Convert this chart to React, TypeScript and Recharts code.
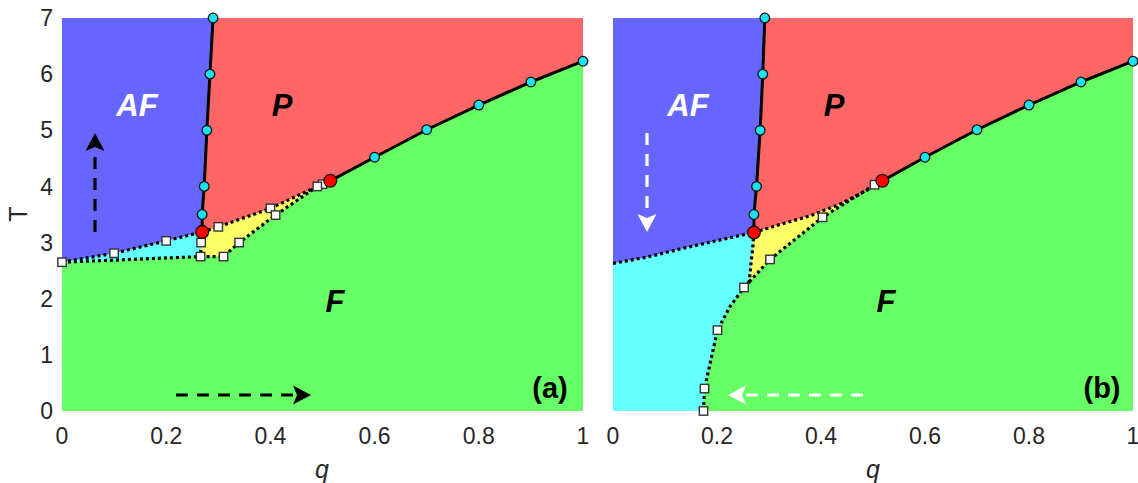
import React from 'react';
import { ComposedChart, XAxis, YAxis, CartesianGrid, Area, Line, Scatter } from 'recharts';

type Pt = { q: number; T: number };

const qTicks = [0, 0.2, 0.4, 0.6, 0.8, 1];
const tTicks = [0, 1, 2, 3, 4, 5, 6, 7];
const T_MAX = 7;

// ---- panel (a) ----
const afParaA: Pt[] = [
  { q: 0.269, T: 3.19 }, { q: 0.269, T: 3.5 }, { q: 0.273, T: 4 },
  { q: 0.278, T: 5 }, { q: 0.284, T: 6 }, { q: 0.29, T: 7 },
];
const pfA: Pt[] = [
  { q: 0.515, T: 4.1 }, { q: 0.6, T: 4.52 }, { q: 0.7, T: 5.01 },
  { q: 0.8, T: 5.45 }, { q: 0.9, T: 5.86 }, { q: 1, T: 6.23 },
];
const afCyanA: Pt[] = [
  { q: 0, T: 2.65 }, { q: 0.1, T: 2.81 }, { q: 0.2, T: 3.03 }, { q: 0.269, T: 3.19 },
];
const cyanFA: Pt[] = [{ q: 0, T: 2.65 }, { q: 0.266, T: 2.75 }];
const cyanYellowA: Pt[] = [{ q: 0.269, T: 3.19 }, { q: 0.267, T: 3.0 }, { q: 0.266, T: 2.75 }];
const yellowPA: Pt[] = [
  { q: 0.269, T: 3.19 }, { q: 0.3, T: 3.28 }, { q: 0.4, T: 3.61 },
  { q: 0.5, T: 4.04 }, { q: 0.515, T: 4.1 },
];
const yellowFA: Pt[] = [
  { q: 0.266, T: 2.75 }, { q: 0.31, T: 2.75 }, { q: 0.34, T: 3.0 },
  { q: 0.41, T: 3.49 }, { q: 0.49, T: 4.0 }, { q: 0.515, T: 4.1 },
];
const squaresA: Pt[] = [
  { q: 0, T: 2.65 }, { q: 0.1, T: 2.81 }, { q: 0.2, T: 3.03 }, { q: 0.267, T: 3.0 },
  { q: 0.266, T: 2.75 }, { q: 0.3, T: 3.28 }, { q: 0.4, T: 3.61 }, { q: 0.5, T: 4.04 },
  { q: 0.31, T: 2.75 }, { q: 0.34, T: 3.0 }, { q: 0.41, T: 3.49 }, { q: 0.49, T: 4.0 },
];
const redA: Pt[] = [{ q: 0.269, T: 3.19 }, { q: 0.515, T: 4.1 }];

// ---- panel (b) ----
const afParaB: Pt[] = [
  { q: 0.271, T: 3.18 }, { q: 0.271, T: 3.5 }, { q: 0.276, T: 4 },
  { q: 0.283, T: 5 }, { q: 0.288, T: 6 }, { q: 0.292, T: 7 },
];
const pfB: Pt[] = [
  { q: 0.518, T: 4.1 }, { q: 0.6, T: 4.52 }, { q: 0.7, T: 5.01 },
  { q: 0.8, T: 5.45 }, { q: 0.9, T: 5.86 }, { q: 1, T: 6.23 },
];
const afCyanB: Pt[] = [
  { q: 0, T: 2.63 }, { q: 0.065, T: 2.74 }, { q: 0.129, T: 2.885 },
  { q: 0.193, T: 3.02 }, { q: 0.271, T: 3.18 },
];
const cyanYellowB: Pt[] = [
  { q: 0.271, T: 3.18 }, { q: 0.269, T: 2.93 }, { q: 0.265, T: 2.6 }, { q: 0.262, T: 2.3 },
];
const yellowPB: Pt[] = [
  { q: 0.271, T: 3.18 }, { q: 0.32, T: 3.32 }, { q: 0.38, T: 3.48 },
  { q: 0.44, T: 3.7 }, { q: 0.49, T: 3.94 }, { q: 0.518, T: 4.1 },
];
const cyanFB: Pt[] = [
  { q: 0.174, T: 0 }, { q: 0.176, T: 0.4 }, { q: 0.201, T: 1.44 },
  { q: 0.225, T: 1.86 }, { q: 0.252, T: 2.2 }, { q: 0.262, T: 2.3 },
];
const yellowFB: Pt[] = [
  { q: 0.262, T: 2.3 }, { q: 0.302, T: 2.7 }, { q: 0.403, T: 3.45 },
  { q: 0.503, T: 4.03 }, { q: 0.518, T: 4.1 },
];
const squaresB: Pt[] = [
  { q: 0.174, T: 0 }, { q: 0.176, T: 0.4 }, { q: 0.201, T: 1.44 }, { q: 0.252, T: 2.2 },
  { q: 0.302, T: 2.7 }, { q: 0.403, T: 3.45 }, { q: 0.503, T: 4.03 },
];
const redB: Pt[] = [{ q: 0.271, T: 3.18 }, { q: 0.518, T: 4.1 }];

const BLUE = '#6666FF';
const RED = '#FF6666';
const GREEN = '#66FF66';
const CYAN = '#66FFFF';
const YELLOW = '#FFFF66';
const FONT = '"Liberation Sans", Arial, Helvetica, sans-serif';
const TXT = '#262626';

const Square = (p: any) => (
  <rect x={p.cx - 4.2} y={p.cy - 4.2} width={8.4} height={8.4} fill="#fff" stroke="#333" strokeWidth={1.4} />
);
const CyanDot = (p: any) => (
  <circle cx={p.cx} cy={p.cy} r={4.8} fill="#1AE2EE" stroke="#111" strokeWidth={1.3} />
);
const RedDot = (p: any) => (
  <circle cx={p.cx} cy={p.cy} r={6.4} fill="#FF0000" stroke="#111" strokeWidth={1.3} />
);

type PanelProps = {
  width: number;
  left: number;
  right: number;
  showY: boolean;
  afPara: Pt[];
  pf: Pt[];
  afCyan: Pt[];
  cyanYellow: Pt[];
  yellowP: Pt[];
  cyanF: Pt[];
  yellowF: Pt[];
  squares: Pt[];
  reds: Pt[];
};

function Panel(p: PanelProps) {
  const blueBand = [...p.afCyan, ...p.afPara.slice(1)].map((d) => ({ q: d.q, band: [d.T, T_MAX] }));
  const yellowArea = [...[...p.cyanYellow].reverse(), ...p.yellowP.slice(1)];
  const cyanArea = [...p.afCyan, ...p.cyanYellow.slice(1)];
  const greenArea = [...p.cyanF, ...p.yellowF.slice(1), ...p.pf.slice(1)];
  const cyanDots = [...p.afPara.slice(1), ...p.pf.slice(1)];
  const dotted = { stroke: '#000', strokeWidth: 3.2, strokeDasharray: '3 3', dot: false, activeDot: false, isAnimationActive: false, type: 'linear' as const };
  const solid = { stroke: '#000', strokeWidth: 3, dot: false, activeDot: false, isAnimationActive: false, type: 'linear' as const };
  const fill = { stroke: 'none', fillOpacity: 1, isAnimationActive: false, type: 'linear' as const, activeDot: false };

  return (
    <ComposedChart width={p.width} height={483} margin={{ top: 18, right: p.right, bottom: 32, left: p.left }}>
      <CartesianGrid horizontal={false} vertical={false} fill={RED} fillOpacity={1} stroke="none" />
      <XAxis
        type="number"
        dataKey="q"
        domain={[0, 1]}
        ticks={qTicks}
        interval={0}
        axisLine={false}
        tickLine={false}
        tickMargin={11}
        height={40}
        tick={{ fill: TXT, fontSize: 23, fontFamily: FONT }}
        tickFormatter={(v: number) => String(v)}
      />
      <YAxis
        type="number"
        domain={[0, 7]}
        ticks={tTicks}
        interval={0}
        axisLine={false}
        tickLine={false}
        tickMargin={3}
        width={50}
        hide={!p.showY}
        tick={{ fill: TXT, fontSize: 23, fontFamily: FONT }}
      />
      <Area data={blueBand} dataKey="band" fill={BLUE} {...fill} />
      <Area data={yellowArea} dataKey="T" baseValue={0} fill={YELLOW} {...fill} />
      <Area data={cyanArea} dataKey="T" baseValue={0} fill={CYAN} {...fill} />
      <Area data={greenArea} dataKey="T" baseValue={0} fill={GREEN} {...fill} />
      <Line data={p.afCyan} dataKey="T" {...dotted} />
      <Line data={p.cyanYellow} dataKey="T" {...dotted} />
      <Line data={p.yellowP} dataKey="T" {...dotted} />
      <Line data={p.cyanF} dataKey="T" {...dotted} />
      <Line data={p.yellowF} dataKey="T" {...dotted} />
      <Line data={p.afPara} dataKey="T" {...solid} />
      <Line data={p.pf} dataKey="T" {...solid} />
      <Scatter data={p.squares} dataKey="T" shape={Square} isAnimationActive={false} />
      <Scatter data={cyanDots} dataKey="T" shape={CyanDot} isAnimationActive={false} />
      <Scatter data={p.reds} dataKey="T" shape={RedDot} isAnimationActive={false} />
    </ComposedChart>
  );
}

function Arrow({ x1, y1, x2, y2, color }: { x1: number; y1: number; x2: number; y2: number; color: string }) {
  // dashed shaft ending at the base of a triangular head at (x2, y2)
  const len = Math.hypot(x2 - x1, y2 - y1);
  const ux = (x2 - x1) / len;
  const uy = (y2 - y1) / len;
  const hl = 18;
  const hw = 9.5;
  const bx = x2 - ux * hl;
  const by = y2 - uy * hl;
  const pts = `${x2},${y2} ${bx - uy * hw},${by + ux * hw} ${bx + ux * 4},${by + uy * 4} ${bx + uy * hw},${by - ux * hw}`;
  return (
    <g>
      <line x1={x1} y1={y1} x2={bx} y2={by} stroke={color} strokeWidth={3.2} strokeDasharray="12 9" />
      <polygon points={pts} fill={color} />
    </g>
  );
}

export default function App() {
  const lbl = { fontFamily: FONT, fontWeight: 700, fontStyle: 'italic' as const, fontSize: 31, textAnchor: 'middle' as const };
  return (
    <div style={{ position: 'absolute', left: 0, top: 0, width: 1138, height: 483, background: '#fff' }}>
      <div style={{ position: 'absolute', left: 0, top: 0 }}>
        <Panel
          width={590} left={12} right={7} showY
          afPara={afParaA} pf={pfA} afCyan={afCyanA} cyanYellow={cyanYellowA} yellowP={yellowPA}
          cyanF={cyanFA} yellowF={yellowFA} squares={squaresA} reds={redA}
        />
      </div>
      <div style={{ position: 'absolute', left: 590, top: 0 }}>
        <Panel
          width={548} left={23} right={5} showY={false}
          afPara={afParaB} pf={pfB} afCyan={afCyanB} cyanYellow={cyanYellowB} yellowP={yellowPB}
          cyanF={cyanFB} yellowF={yellowFB} squares={squaresB} reds={redB}
        />
      </div>
      <svg width={1138} height={483} style={{ position: 'absolute', left: 0, top: 0, pointerEvents: 'none' }}>
        <text x={27} y={214} transform="rotate(-90 27 214)" textAnchor="middle" fontFamily={FONT} fontSize={25} fill={TXT}>T</text>
        <text x={322} y={478} textAnchor="middle" fontFamily={FONT} fontSize={25} fontStyle="italic" fill={TXT}>q</text>
        <text x={873} y={478} textAnchor="middle" fontFamily={FONT} fontSize={25} fontStyle="italic" fill={TXT}>q</text>

        <text x={137} y={116} {...lbl} fill="#fff">AF</text>
        <text x={282} y={116} {...lbl} fill="#000">P</text>
        <text x={335} y={312} {...lbl} fill="#000">F</text>
        <text x={550} y={398} fontFamily={FONT} fontWeight={700} fontSize={29} textAnchor="middle" fill="#000">(a)</text>

        <text x={688} y={116} {...lbl} fill="#fff">AF</text>
        <text x={834} y={116} {...lbl} fill="#000">P</text>
        <text x={886} y={312} {...lbl} fill="#000">F</text>
        <text x={1102} y={398} fontFamily={FONT} fontWeight={700} fontSize={29} textAnchor="middle" fill="#000">(b)</text>

        <Arrow x1={95} y1={232} x2={95} y2={133} color="#000" />
        <Arrow x1={176} y1={395} x2={311} y2={395} color="#000" />
        <Arrow x1={647} y1={133} x2={647} y2={232} color="#fff" />
        <Arrow x1={863} y1={395} x2={728} y2={395} color="#fff" />
      </svg>
    </div>
  );
}
